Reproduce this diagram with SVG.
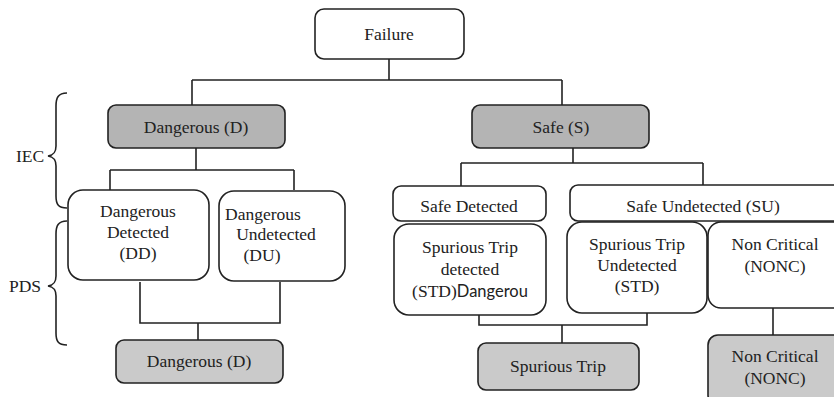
<svg xmlns="http://www.w3.org/2000/svg" width="834" height="397" viewBox="0 0 834 397">
  <style>
    .box { fill: #ffffff; stroke: #222222; stroke-width: 1.6; }
    .dark { fill: #b4b4b4; stroke: #222222; stroke-width: 1.6; }
    .light { fill: #cacaca; stroke: #222222; stroke-width: 1.6; }
    text { font-family: 'Liberation Serif', 'DejaVu Serif', serif; font-size: 17.5px; fill: #222222; text-anchor: middle; }
    .ts { font-family: Lato, 'Open Sans', sans-serif; font-size: 16.5px; }
    .wire { fill: none; stroke: #222222; stroke-width: 1.6; }
  </style>

  <!-- connectors -->
  <g id="connectors" class="wire">
    <path d="M389 59 V80 M192 80 H562 M192 80 V105 M562 80 V105"/>
    <path d="M196 148 V170 M110 170 H294 M110 170 V190 M294 170 V190"/>
    <path d="M140 282 V323 H280 V282 M198 323 V340"/>
    <path d="M573 148 V163 M461 163 H703 M461 163 V186 M703 163 V185"/>
    <path d="M479 315 V325 H647 V313 M562 325 V343"/>
    <path d="M773 308 V335"/>
  </g>

  <!-- grouping braces -->
  <g id="brace-iec">
    <path class="wire" d="M67 93 C58 93 56 98 56 106 V146 C56 152 54 155 48 156 C54 157 56 160 56 166 V196 C56 204 58 208 67 208"/>
    <text x="30" y="162">IEC</text>
  </g>
  <g id="brace-pds">
    <path class="wire" d="M67 221 C58 221 56 226 56 234 V276 C56 282 54 285 48 286 C54 287 56 290 56 296 V333 C56 341 58 345 67 345"/>
    <text x="25" y="292">PDS</text>
  </g>

  <g id="failure">
    <rect class="box" x="315" y="9" width="149" height="50" rx="9"/>
    <text x="389" y="40">Failure</text>
  </g>

  <g id="dangerous">
    <rect class="dark" x="108" y="105" width="177" height="43" rx="8"/>
    <text x="196" y="133">Dangerous (D)</text>
  </g>

  <g id="safe">
    <rect class="dark" x="472" y="105" width="177" height="43" rx="8"/>
    <text x="561" y="133">Safe (S)</text>
  </g>

  <g id="dangerous-detected">
    <rect class="box" x="68" y="190" width="141" height="90" rx="15"/>
    <text x="138" y="217">Dangerous</text>
    <text x="138" y="238">Detected</text>
    <text x="138" y="259">(DD)</text>
  </g>

  <g id="dangerous-undetected">
    <rect class="box" x="219" y="191" width="126" height="90" rx="15"/>
    <text x="263" y="220">Dangerous</text>
    <text x="276" y="240">Undetected</text>
    <text x="262" y="261">(DU)</text>
  </g>

  <g id="dangerous-result">
    <rect class="light" x="116" y="340" width="167" height="43" rx="8"/>
    <text x="199" y="367">Dangerous (D)</text>
  </g>

  <g id="safe-detected">
    <rect class="box" x="393" y="186" width="153" height="35" rx="8"/>
    <text x="469" y="212">Safe Detected</text>
  </g>

  <g id="safe-undetected">
    <rect class="box" x="570" y="185" width="272" height="36" rx="8"/>
    <text x="703" y="212">Safe Undetected (SU)</text>
  </g>

  <g id="spurious-trip-detected">
    <rect class="box" x="394" y="224" width="152" height="91" rx="15"/>
    <text x="470" y="253">Spurious Trip</text>
    <text x="470" y="275">detected</text>
    <text x="470" y="297">(STD)<tspan class="ts">Dangerou</tspan></text>
  </g>

  <g id="spurious-trip-undetected">
    <rect class="box" x="567" y="222" width="140" height="91" rx="15"/>
    <text x="637" y="250">Spurious Trip</text>
    <text x="637" y="271">Undetected</text>
    <text x="637" y="292">(STD)</text>
  </g>

  <g id="non-critical">
    <rect class="box" x="708" y="222" width="140" height="86" rx="13"/>
    <text x="775" y="250">Non Critical</text>
    <text x="775" y="272">(NONC)</text>
  </g>

  <g id="spurious-trip">
    <rect class="light" x="478" y="343" width="161" height="47" rx="8"/>
    <text x="558" y="372">Spurious Trip</text>
  </g>

  <g id="non-critical-result">
    <rect class="light" x="708" y="335" width="140" height="70" rx="10"/>
    <text x="775" y="362">Non Critical</text>
    <text x="775" y="384">(NONC)</text>
  </g>
</svg>
